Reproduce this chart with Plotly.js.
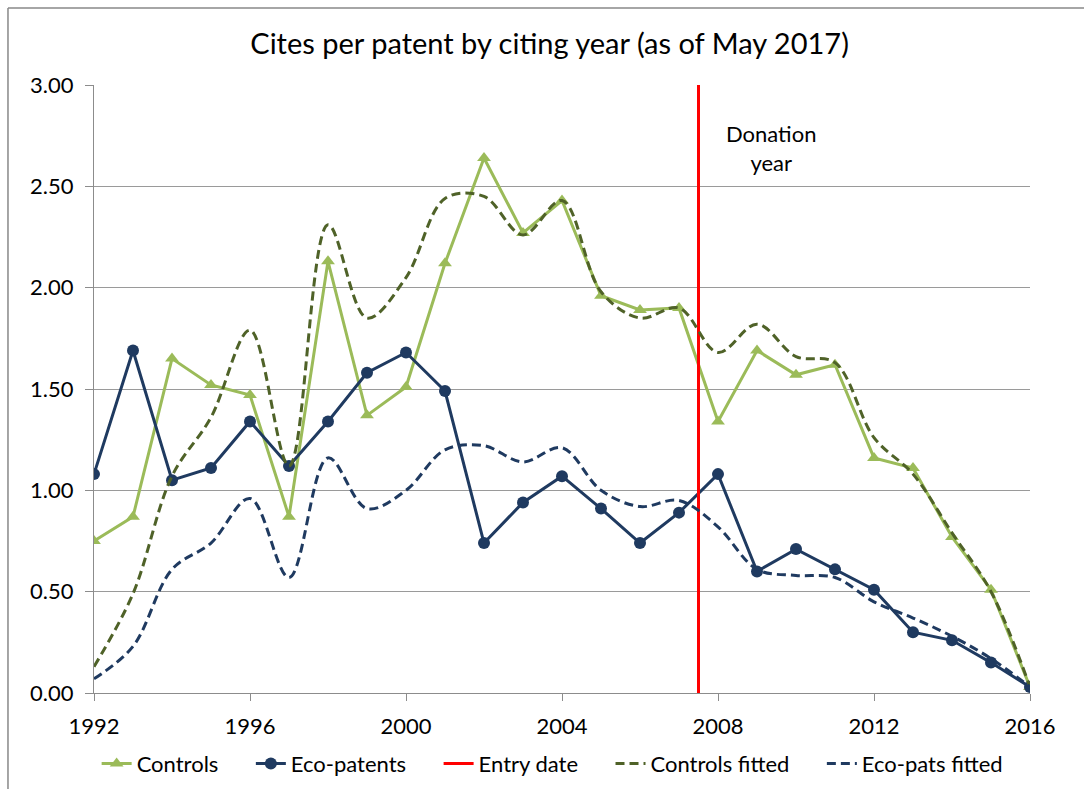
<!DOCTYPE html>
<html>
<head>
<meta charset="utf-8">
<script src="https://cdn.plot.ly/plotly-3.0.1.min.js"></script>
<style>html,body{margin:0;padding:0;background:#fff;}#chart{width:1084px;height:789px;}</style>
</head>
<body>
<div id="chart"></div>
<script>
const years = [1992,1993,1994,1995,1996,1997,1998,1999,2000,2001,2002,2003,2004,2005,2006,2007,2008,2009,2010,2011,2012,2013,2014,2015,2016];
const controls = [0.75,0.87,1.65,1.52,1.47,0.87,2.13,1.37,1.51,2.12,2.64,2.27,2.43,1.96,1.89,1.90,1.34,1.69,1.57,1.62,1.16,1.11,0.77,0.51,0.03];
const ecoPatents = [1.08,1.69,1.05,1.11,1.34,1.12,1.34,1.58,1.68,1.49,0.74,0.94,1.07,0.91,0.74,0.89,1.08,0.60,0.71,0.61,0.51,0.30,0.26,0.15,0.03];
const controlsFitted = [0.13,0.49,1.07,1.36,1.79,1.12,2.31,1.85,2.05,2.44,2.45,2.26,2.43,1.98,1.85,1.90,1.68,1.82,1.66,1.63,1.26,1.08,0.79,0.50,0.03];
const ecoFitted = [0.07,0.23,0.61,0.74,0.96,0.57,1.16,0.91,1.00,1.20,1.22,1.14,1.21,1.00,0.92,0.95,0.82,0.61,0.58,0.57,0.45,0.37,0.28,0.17,0.03];
const entryYear = [2007.5, 2007.5];
const entryRange = [0, 3];
const yTicks = [0,0.5,1,1.5,2,2.5,3];
const xTicks = [1992,1996,2000,2004,2008,2012,2016];
const seriesNames = ['Controls','Eco-patents','Entry date','Controls fitted','Eco-pats fitted'];

const pad = '\u2003\u2002';
const green = '#9BBB59', navy = '#1F3A60', olive = '#4F6228', red = '#FF0000';
const traces = [
  {x: years, y: controls, name: seriesNames[0] + pad, mode: 'lines+markers', type: 'scatter',
   line: {color: green, width: 3}, marker: {symbol: 'triangle-up', size: 12, color: green}},
  {x: years, y: ecoPatents, name: seriesNames[1] + pad, mode: 'lines+markers', type: 'scatter',
   line: {color: navy, width: 3}, marker: {symbol: 'circle', size: 12, color: navy}},
  {x: entryYear, y: entryRange, name: seriesNames[2] + pad, mode: 'lines', type: 'scatter',
   line: {color: red, width: 3}},
  {x: years, y: controlsFitted, name: seriesNames[3] + pad, mode: 'lines', type: 'scatter',
   line: {color: olive, width: 3, dash: '9px,5px', shape: 'spline', smoothing: 1}},
  {x: years, y: ecoFitted, name: seriesNames[4], mode: 'lines', type: 'scatter',
   line: {color: navy, width: 3, dash: '9px,5px', shape: 'spline', smoothing: 1}}
];
const font = 'Lato, "Open Sans", sans-serif';
const layout = {
  width: 1084, height: 789,
  margin: {l: 94, r: 54, t: 85, b: 96},
  paper_bgcolor: '#fff', plot_bgcolor: '#fff',
  font: {family: font, size: 22, color: '#000'},
  title: {text: 'Cites per patent by citing year (as of May 2017)', x: 0.507, xanchor: 'center', yref: 'container', y: 0.945, yanchor: 'middle', font: {family: font, size: 29, color: '#000'}},
  xaxis: {range: [1992, 2016], tickvals: xTicks, ticktext: xTicks.map(String), showgrid: false, zeroline: false,
    showline: true, linecolor: '#8c8c8c', linewidth: 1, ticks: 'outside', ticklen: 7, tickcolor: '#8c8c8c',
    ticklabelstandoff: 7, tickfont: {family: font, size: 22}, automargin: false},
  yaxis: {range: [0, 3], tickvals: yTicks, tickformat: '.2f', showgrid: true, gridcolor: '#9a9a9a', gridwidth: 1,
    zeroline: false, showline: true, linecolor: '#8c8c8c', linewidth: 1, ticks: 'outside', ticklen: 8, tickcolor: '#8c8c8c',
    ticklabelstandoff: 7, tickfont: {family: font, size: 22}, automargin: false},
  legend: {orientation: 'h', x: 0.49, xanchor: 'center', yref: 'container', y: 0.032, yanchor: 'middle', font: {family: font, size: 22}, tracegroupgap: 0},
  showlegend: true,
  annotations: [{x: 2009.36, y: 2.69, xref: 'x', yref: 'y', text: 'Donation<br>year', showarrow: false, font: {family: font, size: 22, color: '#000'}, align: 'center'}],
  shapes: [
    {type: 'line', xref: 'paper', yref: 'paper', x0: -0.0919, x1: 1.06, y0: 1.1266, y1: 1.1266, line: {color: '#888888', width: 1.5}},
    {type: 'line', xref: 'paper', yref: 'paper', x0: -0.0919, x1: -0.0919, y0: 1.1266, y1: -0.16, line: {color: '#888888', width: 1.5}}
  ]
};
Plotly.newPlot('chart', traces, layout, {displayModeBar: false, staticPlot: true});
</script>
</body>
</html>
